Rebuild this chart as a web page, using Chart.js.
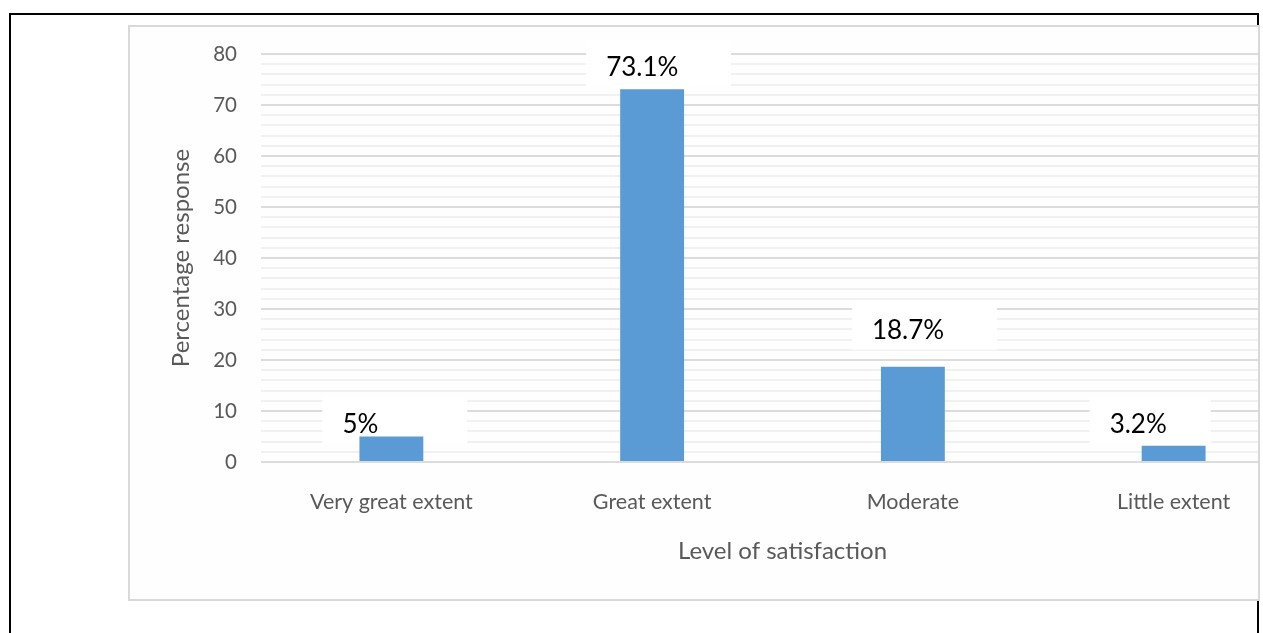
<!DOCTYPE html>
<html>
<head>
<meta charset="utf-8">
<script src="https://cdn.jsdelivr.net/npm/chart.js@4.4.1/dist/chart.umd.min.js"></script>
<style>
  html, body { margin: 0; padding: 0; background: #fff; overflow: hidden; }
  body { width: 1263px; height: 633px; position: relative; }
  /* black frame around the figure, bottom edge runs off the page */
  #frame {
    position: absolute; left: 9px; top: 13px; width: 1250px; height: 700px;
    border: 2px solid #000; box-sizing: border-box;
  }
  /* chart box with its light grey border; the plot runs past its right edge */
  #box {
    position: absolute; left: 128px; top: 25px; width: 1132px; height: 576px;
    border: 2px solid #d9d9d9; box-sizing: border-box; background: #fefefe;
    overflow: hidden;
  }
  #my_chart { position: absolute; left: -130px; top: -27px; }
</style>
</head>
<body>
<div id="frame"></div>
<div id="box"><canvas id="my_chart" width="1320" height="633"></canvas></div>
<script>
// Categories and values
const categories = ['Very great extent', 'Great extent', 'Moderate', 'Little extent'];
const percentages = [5, 73.1, 18.7, 3.2];
const valueLabels = ['5%', '73.1%', '18.7%', '3.2%'];

// Y axis runs 0..80, labelled every 10, light lines every 2
const yMin = 0;
const yMax = 80;
const yLabelStep = 10;
const yLineStep = 2;

const ctx = document.getElementById('my_chart').getContext('2d');

const greyText = '#595959';
const fontFamily = 'Lato, "Open Sans", sans-serif';

// Value labels sit in white boxes, nudged by hand from the top of each bar
const valueBoxes = {
  id: 'valueBoxes',
  beforeDatasetsDraw(chart, args, opts) {
    const c = chart.ctx;
    const meta = chart.getDatasetMeta(0);
    c.save();
    c.fillStyle = '#ffffff';
    meta.data.forEach((bar, i) => {
      const [dx, dy, w] = opts.shift[i];
      const left = bar.x + dx - 20;
      const mid = bar.y + dy;
      c.fillRect(left, mid - 28, w, 47);
    });
    c.restore();
  },
  afterDatasetsDraw(chart, args, opts) {
    const c = chart.ctx;
    const meta = chart.getDatasetMeta(0);
    c.save();
    c.fillStyle = '#000000';
    c.font = '26px ' + fontFamily;
    c.textAlign = 'left';
    c.textBaseline = 'middle';
    meta.data.forEach((bar, i) => {
      const [dx, dy] = opts.shift[i];
      c.fillText(valueLabels[i], bar.x + dx, bar.y + dy);
    });
    c.restore();
  }
};

const config = {
  type: 'bar',
  data: {
    labels: categories,
    datasets: [{
      data: percentages,
      backgroundColor: '#5b9bd5',
      borderWidth: 0,
      categoryPercentage: 1,
      barPercentage: 0.245
    }]
  },
  options: {
    responsive: false,
    animation: false,
    layout: { padding: { left: 167, top: 54, right: 16, bottom: 0 } },
    plugins: {
      legend: { display: false },
      tooltip: { enabled: false },
      valueBoxes: {
        shift: [[-49, -12, 145], [-46, -22, 145], [-41, -36, 145], [-64, -21, 121]]
      }
    },
    scales: {
      x: {
        grid: { display: false },
        border: { display: false },
        ticks: {
          color: greyText,
          font: { family: fontFamily, size: 21.5 },
          padding: 19,
          maxRotation: 0
        },
        title: {
          display: true,
          text: 'Level of satisfaction',
          color: greyText,
          font: { family: fontFamily, size: 24 },
          padding: { top: 0, bottom: 67 }
        },
        afterFit(scale) { scale.height = 171; }
      },
      y: {
        min: yMin,
        max: yMax,
        border: { display: false },
        grid: {
          drawTicks: false,
          lineWidth: 2,
          color: c => (c.tick && c.tick.value % yLabelStep === 0) ? '#dcdcdc' : '#f1f1f1'
        },
        ticks: {
          stepSize: yLineStep,
          autoSkip: false,
          color: greyText,
          font: { family: fontFamily, size: 20.5 },
          padding: 24,
          callback: v => (v % yLabelStep === 0 ? v : '')
        },
        title: {
          display: true,
          text: 'Percentage response',
          color: greyText,
          font: { family: fontFamily, size: 24 },
          padding: 0
        },
        afterFit(scale) { scale.width = 94; }
      }
    }
  },
  plugins: [valueBoxes]
};

const myChart = new Chart(ctx, config);
</script>
</body>
</html>
